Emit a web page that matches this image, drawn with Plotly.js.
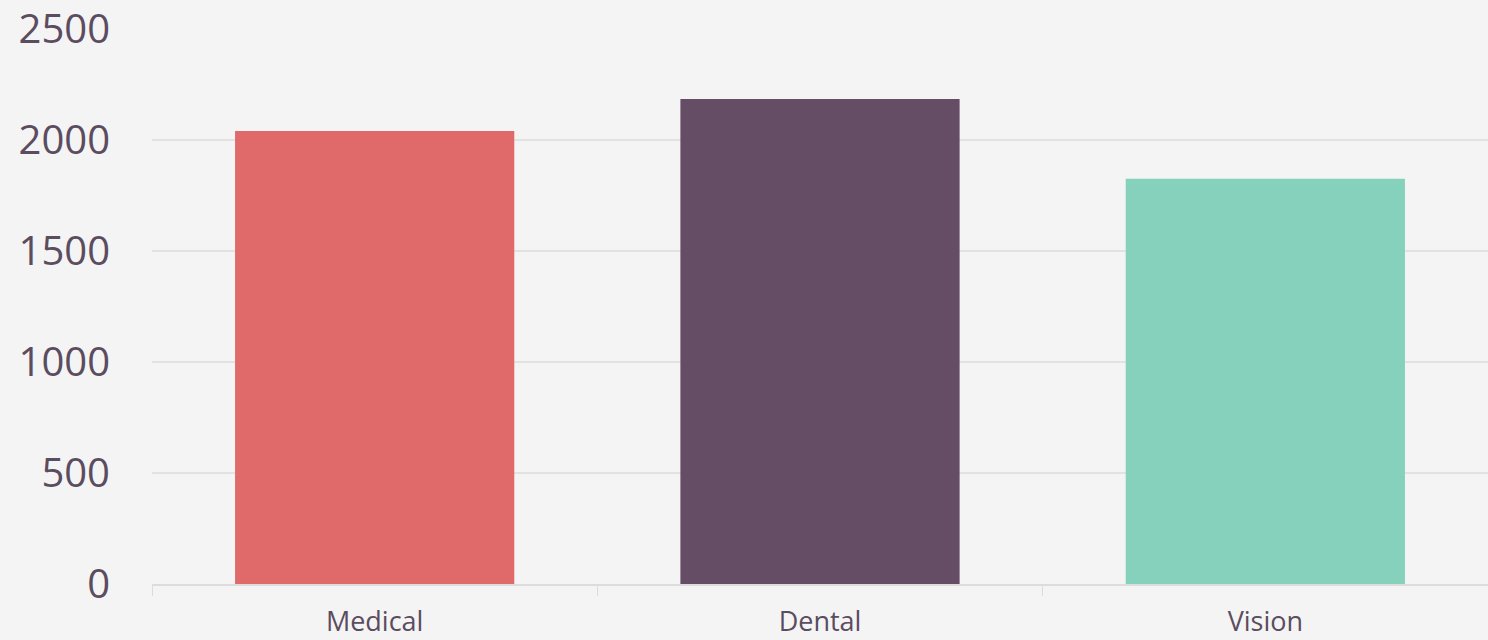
<!DOCTYPE html>
<html>
<head>
<meta charset="utf-8">
<script src="https://cdn.plot.ly/plotly-3.0.1.min.js"></script>
<style>
html,body{margin:0;padding:0;background:#f4f4f4;}
#chart{width:1488px;height:640px;}
</style>
</head>
<body>
<div id="chart"></div>
<script>
const categories = ["Medical", "Dental", "Vision"];
const values = [2040, 2185, 1825];
const barColors = ["#e06a6a", "#654d66", "#85d1bc"];
const yTicks = [0, 500, 1000, 1500, 2000, 2500];

const trace = {
  type: "bar",
  x: categories,
  y: values,
  marker: {color: barColors, line: {width: 0}},
  hoverinfo: "x+y"
};

const layout = {
  width: 1488,
  height: 640,
  paper_bgcolor: "#f4f4f4",
  plot_bgcolor: "#f4f4f4",
  margin: {l: 152, r: 0, t: 29, b: 56},
  bargap: 0.373,
  showlegend: false,
  font: {family: "Open Sans, sans-serif", color: "#5b4c5f"},
  xaxis: {
    type: "category",
    tickson: "boundaries",
    ticks: "outside",
    ticklen: 10,
    tickwidth: 1,
    tickcolor: "#dcdcdc",
    showline: true,
    linecolor: "#dcdcdc",
    linewidth: 2,
    showgrid: false,
    tickfont: {size: 27, color: "#5b4c5f"},
    ticklabelstandoff: 13
  },
  yaxis: {
    range: [0, 2500],
    tickvals: yTicks,
    ticktext: yTicks.map(String),
    showgrid: true,
    gridcolor: "#e2e2e2",
    gridwidth: 2,
    zeroline: false,
    showline: false,
    ticks: "",
    tickfont: {size: 40, color: "#5b4c5f"},
    ticklabelstandoff: 41
  }
};

Plotly.newPlot("chart", [trace], layout, {displayModeBar: false, staticPlot: true});
</script>
</body>
</html>
